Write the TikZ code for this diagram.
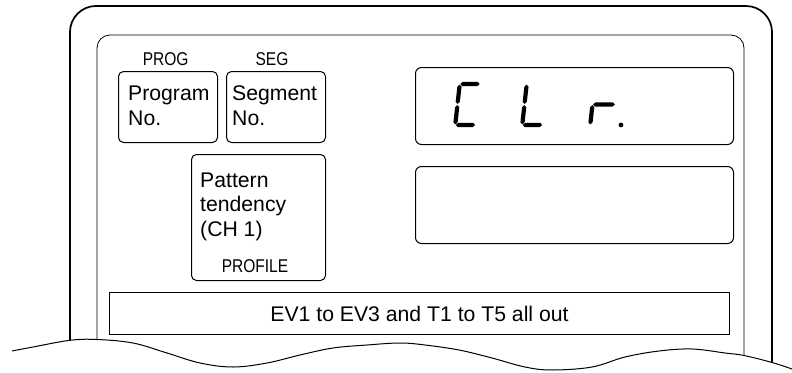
\documentclass[tikz,border=0pt]{standalone}
\usepackage{fontspec}
\setmainfont{Liberation Sans}
\newfontfamily\narrowfont[FakeStretch=0.84]{Liberation Sans}
\newcommand\lcdh[3]{\fill ({#1+0.6},{#3}) -- ({#1+2.7},{#3-2.1}) -- ({#2-2.7},{#3-2.1}) -- ({#2-0.6},{#3}) -- ({#2-2.7},{#3+2.1}) -- ({#1+2.7},{#3+2.1}) -- cycle;}
\newcommand\lcdv[3]{\fill ({#1},{#2+0.6}) -- ({#1+2.1},{#2+2.7}) -- ({#1+2.1},{#3-2.7}) -- ({#1},{#3-0.6}) -- ({#1-2.1},{#3-2.7}) -- ({#1-2.1},{#2+2.7}) -- cycle;}
\begin{document}
\begin{tikzpicture}[x=1pt,y=-1pt,
  frame/.style={line width=1.7pt},
  innerframe/.style={line width=0.8pt},
  box/.style={draw, line width=1pt, rounded corners=5pt, inner sep=0pt, anchor=north west},
  lcdbox/.style={draw, line width=1pt, rounded corners=6pt, inner sep=0pt, anchor=north west},
  barbox/.style={draw, line width=1pt, inner sep=0pt, anchor=north west},
  txt/.style={font=\fontsize{21.2}{24.6}\selectfont, inner sep=0pt, align=left},
  lbl/.style={font=\narrowfont\fontsize{18.5}{20}\selectfont, inner sep=0pt},
  wave/.style={line width=1pt}]
\fill[white] (0,0) rectangle (792,372);
\useasboundingbox (0,0) rectangle (792,372);
% frames
\draw[frame, rounded corners=26pt] (70,340.3) -- (70,6) -- (772,6) -- (772,362.5);
\draw[innerframe, rounded corners=13pt] (97,339.5) -- (97,35) -- (744,35) -- (744,355.5);
% wave
\draw[wave] plot[smooth, tension=0.6] coordinates {(12,351) (33,347) (70,340.3) (97,339.5) (133,343) (167,353) (200,363) (233,367) (267,363) (300,355) (333,348) (367,345) (400,343) (425,345) (459,350) (492,358) (525,367) (552,370) (592,367) (625,357) (659,351) (692,349) (725,353) (744,355.5) (772,362.5) (792,369)};
% boxes
\node[box, minimum width=99pt, minimum height=71pt] (prog) at (118,71) {};
\node[box, minimum width=99pt, minimum height=71pt] (seg) at (226,71) {};
\node[box, minimum width=134pt, minimum height=126pt] (pat) at (191,154) {};
\node[lcdbox, minimum width=318pt, minimum height=77pt] (disp1) at (415,67) {};
\node[lcdbox, minimum width=318pt, minimum height=77pt] (disp2) at (415,166) {};
\node[barbox, minimum width=620pt, minimum height=42pt] (evbar) at (109,292) {};
% texts
\node[lbl, anchor=base] (proglbl) at (165.7,65) {PROG};
\node[lbl, anchor=base] (seglbl) at (272,65) {SEG};
\node[lbl, anchor=base] (proflbl) at (255,272) {PROFILE};
\node[txt, anchor=base west] (progtxt) at (128,125) {Program\\No.};
\node[txt, anchor=base west] (segtxt) at (232,125) {Segment\\No.};
\node[txt, anchor=base west] (pattxt) at (200,236.5) {Pattern\\tendency\\(CH 1)};
\node[txt, anchor=base] (evtxt) at (419.5,321) {EV1 to EV3 and T1 to T5 all out};
% LCD characters
\begin{scope}[shift={(453,127)}, xslant=0.11]
\lcdh{2}{22.5}{-43}
\lcdv{2}{-43}{-22.5}
\lcdv{2}{-22.5}{-2}
\lcdh{2}{22.5}{-2}
\end{scope}
\begin{scope}[shift={(520,127)}, xslant=0.11]
\lcdv{2}{-43}{-22.5}
\lcdv{2}{-22.5}{-2}
\lcdh{2}{22.5}{-2}
\end{scope}
\begin{scope}[shift={(588,127)}, xslant=0.11]
\lcdv{2}{-22.5}{-2}
\lcdh{2}{25}{-22.5}
\end{scope}
\fill (621,125) circle (2.4pt);
\end{tikzpicture}
\end{document}
